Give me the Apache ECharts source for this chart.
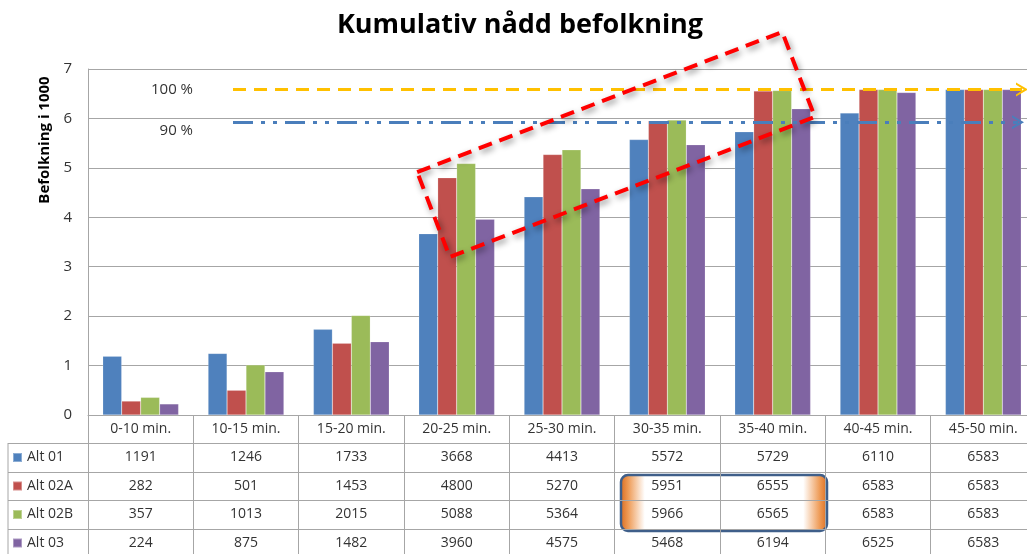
<!DOCTYPE html>
<html>
<head>
<meta charset="utf-8">
<script src="https://cdn.jsdelivr.net/npm/echarts@6/dist/echarts.min.js"></script>
<style>
  html, body { margin: 0; padding: 0; overflow: hidden; background: #fff; }
  #chart { width: 1040px; height: 554px; }
</style>
</head>
<body>
<div id="chart"></div>
<script>
// data (persons, axis shows thousands)
const categories = ['0-10 min.', '10-15 min.', '15-20 min.', '20-25 min.', '25-30 min.',
  '30-35 min.', '35-40 min.', '40-45 min.', '45-50 min.'];
const seriesNames = ['Alt 01', 'Alt 02A', 'Alt 02B', 'Alt 03'];
const alt01 = [1191, 1246, 1733, 3668, 4413, 5572, 5729, 6110, 6583];
const alt02A = [282, 501, 1453, 4800, 5270, 5951, 6555, 6583, 6583];
const alt02B = [357, 1013, 2015, 5088, 5364, 5966, 6565, 6583, 6583];
const alt03 = [224, 875, 1482, 3960, 4575, 5468, 6194, 6525, 6583];
const refNames = ['100 %', '90 %'];
const refValues = [6583, 5925];

const colors = ['#4F81BD', '#C0504D', '#9BBB59', '#8064A2'];
const allValues = [alt01, alt02A, alt02B, alt03];
const font = '"Open Sans", sans-serif';
const gridColor = '#A6A6A6';

const chart = echarts.init(document.getElementById('chart'));

// table rows below the axis, one text block per category
const tableLabel = (value, idx) => {
  let s = '{h|' + value + '}';
  allValues.forEach(arr => { s += '\n{v|' + arr[idx] + '}'; });
  return s;
};

const series = seriesNames.map((name, i) => ({
  name: name,
  type: 'bar',
  barGap: 0,
  barCategoryGap: '28%',
  animation: false,
  data: allValues[i].map(v => v / 1000),
  itemStyle: { color: colors[i], borderColor: 'rgba(255,255,255,0.35)', borderWidth: 0.5 },
}));

// reference lines on the first series
series[0].markLine = {
  silent: true,
  animation: false,
  symbol: ['none', 'path://M0,10 L5,0 L10,10 L8.5,10 L5,3.5 L1.5,10 Z'],
  symbolSize: [14, 12],
  data: [
    [
      { x: 233, yAxis: refValues[0] / 1000,
        itemStyle: { color: '#FFC000' },
        lineStyle: { color: '#FFC000', width: 3, type: [13, 8] },
        label: { show: true, position: 'start', formatter: refNames[0], distance: 40, offset: [0, 0] } },
      { x: 1022, yAxis: refValues[0] / 1000 }
    ],
    [
      { x: 233, yAxis: refValues[1] / 1000,
        lineStyle: { color: '#4A7EBB', width: 3, type: [20, 8, 4, 8, 4, 8] },
        label: { show: true, position: 'start', formatter: refNames[1], distance: 40, offset: [0, 9] } },
      { x: 1018, yAxis: refValues[1] / 1000 }
    ]
  ],
  label: { color: '#333', fontSize: 15, fontFamily: font },
  itemStyle: { color: '#4A7EBB' }
};

const rowLines = [443, 472, 500, 529];

chart.setOption({
  backgroundColor: '#fff',
  color: colors,
  title: {
    text: 'Kumulativ nådd befolkning',
    left: 'center',
    top: 7,
    textStyle: { fontFamily: font, fontSize: 27, fontWeight: 'bold', color: '#000' }
  },
  legend: {
    orient: 'vertical',
    left: 12,
    top: 449.5,
    padding: 0,
    itemWidth: 9,
    itemHeight: 9,
    itemGap: 12.5,
    icon: 'rect',
    textStyle: { fontFamily: font, fontSize: 14, color: '#333', lineHeight: 16 },
    data: seriesNames
  },
  grid: { left: 88, right: 4, top: 69, bottom: 139 },
  xAxis: {
    type: 'category',
    data: categories,
    axisLine: { show: true, lineStyle: { color: gridColor, width: 1 } },
    axisTick: { show: true, length: 139, interval: 0, lineStyle: { color: gridColor } },
    axisLabel: {
      interval: 0,
      margin: 0,
      formatter: tableLabel,
      rich: {
        h: { fontFamily: font, fontSize: 14, color: '#333', lineHeight: 28, align: 'center' },
        v: { fontFamily: font, fontSize: 14, color: '#333', lineHeight: 28.5, align: 'center' }
      }
    }
  },
  yAxis: {
    type: 'value',
    min: 0,
    max: 7,
    interval: 1,
    axisLine: { show: true, lineStyle: { color: gridColor } },
    axisTick: { show: false },
    axisLabel: { fontFamily: font, fontSize: 15, color: '#333', margin: 16 },
    splitLine: { lineStyle: { color: gridColor } }
  },
  series: series,
  graphic: [
    {
      type: 'text', x: 45, y: 140, rotation: Math.PI / 2,
      style: { text: 'Befolkning i 1000', fontFamily: font, fontSize: 15, fontWeight: 'bold',
        fill: '#000', align: 'center', verticalAlign: 'middle' }
    },
    // table outline
    { type: 'line', shape: { x1: 8, y1: 443, x2: 8, y2: 554 }, style: { stroke: gridColor } },
    ...rowLines.map(y => ({ type: 'line', shape: { x1: 8, y1: y + 0.5, x2: 1040, y2: y + 0.5 },
      style: { stroke: gridColor } })),
    // highlight box in the table
    {
      type: 'rect', z: -5,
      shape: { x: 621, y: 475, width: 206, height: 56, r: 7 },
      style: {
        fill: new echarts.graphic.LinearGradient(0, 0, 1, 0, [
          { offset: 0, color: '#D9681A' }, { offset: 0.04, color: '#EE9A55' },
          { offset: 0.12, color: '#FFFFFF' }, { offset: 0.88, color: '#FFFFFF' },
          { offset: 0.96, color: '#EE9A55' }, { offset: 1, color: '#D9681A' }
        ]),
        stroke: '#3F5F8A', lineWidth: 2.5
      }
    },
    // red dashed frame
    {
      type: 'rect', x: 616, y: 144.5, rotation: 21 * Math.PI / 180, z: 100,
      shape: { x: -195.5, y: -45.5, width: 391, height: 91 },
      style: {
        fill: 'none', stroke: '#FF0000', lineWidth: 4, lineDash: [14, 8],
        shadowBlur: 6, shadowColor: 'rgba(0,0,0,0.45)', shadowOffsetX: 2, shadowOffsetY: 3
      }
    }
  ]
});
</script>
</body>
</html>
